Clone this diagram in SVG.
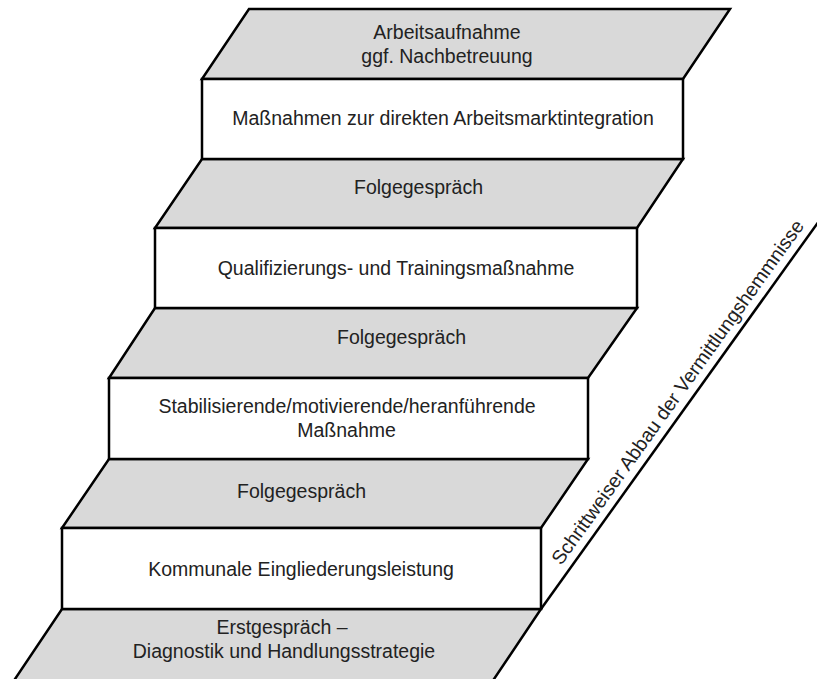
<svg xmlns="http://www.w3.org/2000/svg" width="817" height="679" viewBox="0 0 817 679">
<style>
.para{fill:#d9d9d9;stroke:#000;stroke-width:2.5;stroke-linejoin:miter}
.box{fill:#fff;stroke:#000;stroke-width:2.5}
.t{font-family:"Liberation Sans",Arial,sans-serif;font-size:19.5px;fill:#222;text-anchor:middle}
.ln{stroke:#000;stroke-width:2.5;fill:none}
</style>
<rect width="817" height="679" fill="#fff"/>
<g id="step-erstgespraech">
<polygon class="para" points="62,609 541,609 492,682 13,682"/>
<text class="t" x="282" y="634">Erstgespräch –</text>
<text class="t" x="284" y="658">Diagnostik und Handlungsstrategie</text>
</g>
<g id="step-folge1">
<polygon class="para" points="109,459 588,459 541,528 62,528"/>
<text class="t" x="301.5" y="498">Folgegespräch</text>
</g>
<g id="step-folge2">
<polygon class="para" points="155,308 637,308 588,378 109,378"/>
<text class="t" x="401.5" y="344">Folgegespräch</text>
</g>
<g id="step-folge3">
<polygon class="para" points="202,159 683,159 637,228 155,228"/>
<text class="t" x="418.5" y="194">Folgegespräch</text>
</g>
<g id="step-arbeitsaufnahme">
<polygon class="para" points="249,9 730,9 683,79 202,79"/>
<text class="t" x="447" y="39">Arbeitsaufnahme</text>
<text class="t" x="447" y="63">ggf. Nachbetreuung</text>
</g>
<g id="box-kommunal">
<rect class="box" x="62" y="528" width="479" height="81"/>
<text class="t" x="301" y="576">Kommunale Eingliederungsleistung</text>
</g>
<g id="box-stabil">
<rect class="box" x="109" y="378" width="479" height="81"/>
<text class="t" x="347" y="413">Stabilisierende/motivierende/heranführende</text>
<text class="t" x="346.5" y="437">Maßnahme</text>
</g>
<g id="box-quali">
<rect class="box" x="155" y="228" width="482" height="80"/>
<text class="t" x="396" y="275">Qualifizierungs- und Trainingsmaßnahme</text>
</g>
<g id="box-direkt">
<rect class="box" x="202" y="79" width="481" height="80"/>
<text class="t" x="443" y="125">Maßnahmen zur direkten Arbeitsmarktintegration</text>
</g>
<g id="connectors">
<line class="ln" x1="541" y1="609" x2="819" y2="221"/>
</g>
<g id="axis-label">
<text class="t" transform="translate(683,396) rotate(-54.4)">Schrittweiser Abbau der Vermittlungshemmnisse</text>
</g>
</svg>
